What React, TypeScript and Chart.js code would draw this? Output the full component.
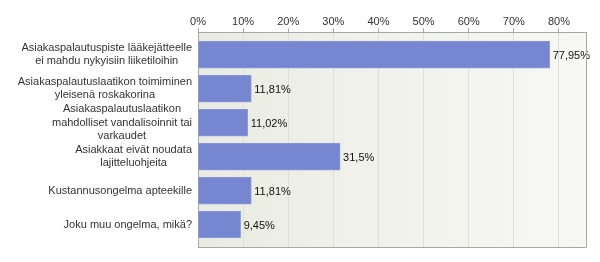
import React, { useEffect, useRef } from "react";
import { Chart, registerables } from "chart.js";

Chart.register(...registerables);

const categories: string[][] = [
  ["Asiakaspalautuspiste lääkejätteelle", "ei mahdu nykyisiin liiketiloihin"],
  ["Asiakaspalautuslaatikon toimiminen", "yleisenä roskakorina"],
  ["Asiakaspalautuslaatikon", "mahdolliset vandalisoinnit tai", "varkaudet"],
  ["Asiakkaat eivät noudata", "lajitteluohjeita"],
  ["Kustannusongelma apteekille"],
  ["Joku muu ongelma, mikä?"],
];
const values: number[] = [77.95, 11.81, 11.02, 31.5, 11.81, 9.45];
const valueLabels: string[] = ["77,95%", "11,81%", "11,02%", "31,5%", "11,81%", "9,45%"];

const FONT = "'Liberation Sans', Arial, sans-serif";

const bgPlugin = {
  id: "bgPlugin",
  beforeDraw(chart: any) {
    const { ctx, chartArea: a } = chart;
    const g = ctx.createLinearGradient(a.left, 0, a.right, 0);
    g.addColorStop(0, "#EAECE3");
    g.addColorStop(1, "#F7F8F4");
    ctx.save();
    ctx.fillStyle = g;
    ctx.fillRect(a.left, a.top, a.right - a.left, a.bottom - a.top);
    ctx.restore();
  },
  afterDraw(chart: any) {
    const { ctx, chartArea: a } = chart;
    ctx.save();
    ctx.strokeStyle = "#A8A8A8";
    ctx.lineWidth = 1;
    ctx.beginPath();
    ctx.moveTo(a.right + 0.5, a.top);
    ctx.lineTo(a.right + 0.5, a.bottom + 0.5);
    ctx.lineTo(a.left, a.bottom + 0.5);
    ctx.stroke();
    ctx.restore();
  },
};

const labelPlugin = {
  id: "labelPlugin",
  afterDatasetsDraw(chart: any) {
    const { ctx, chartArea: a } = chart;
    const yScale = chart.scales.y;
    ctx.save();
    ctx.font = `11px ${FONT}`;
    ctx.textBaseline = "middle";
    ctx.fillStyle = "#333333";
    ctx.textAlign = "center";
    const lh = 13.5;
    const rightEdge = a.left - 6;
    categories.forEach((lines, i) => {
      const cy = yScale.getPixelForValue(i);
      const maxW = Math.max(...lines.map((l) => ctx.measureText(l).width));
      const cx = rightEdge - maxW / 2;
      const y0 = cy - ((lines.length - 1) * lh) / 2;
      lines.forEach((l, j) => ctx.fillText(l, cx, y0 + j * lh));
    });
    ctx.fillStyle = "#111111";
    ctx.textAlign = "left";
    const meta = chart.getDatasetMeta(0);
    meta.data.forEach((bar: any, i: number) => {
      ctx.fillText(valueLabels[i], bar.x + 3, bar.y + 1);
    });
    ctx.restore();
  },
};

export default function App() {
  const ref = useRef<HTMLCanvasElement>(null);
  useEffect(() => {
    document.body.style.margin = "0";
    const chart = new Chart(ref.current!, {
      type: "bar",
      data: {
        datasets: [
          {
            data: values.map((v, i) => ({ x: v, y: i })),
            backgroundColor: "#7786D1",
            borderColor: "#8E9BDB",
            borderWidth: 1,
            barThickness: 27,
          },
        ],
      },
      plugins: [bgPlugin, labelPlugin],
      options: {
        indexAxis: "y",
        responsive: false,
        animation: false,
        devicePixelRatio: 1,
        layout: { padding: { left: 198, right: 14, top: 15, bottom: 15 } },
        plugins: { legend: { display: false }, tooltip: { enabled: false } },
        scales: {
          x: {
            type: "linear",
            position: "top",
            min: 0,
            max: 86,
            ticks: {
              stepSize: 10,
              includeBounds: false,
              callback: (v: any) => `${v}%`,
              color: "#333333",
              font: { family: FONT, size: 11 },
              padding: 0,
            },
            grid: {
              color: "#DEE0D8",
              tickColor: "#A8A8A8",
              tickLength: 4,
            },
            border: { display: true, color: "#A8A8A8" },
          },
          y: {
            type: "linear",
            reverse: true,
            offset: false,
            bounds: "data",
            min: -0.662,
            max: 5.662,
            ticks: { display: false, stepSize: 1, includeBounds: false },
            grid: { display: false, drawTicks: false, offset: false },
            border: { display: true, color: "#A8A8A8" },
          },
        },
      },
    } as any);
    return () => chart.destroy();
  }, []);
  return (
    <div style={{ width: 600, height: 262, background: "#fff" }}>
      <canvas ref={ref} width={600} height={262} />
    </div>
  );
}
